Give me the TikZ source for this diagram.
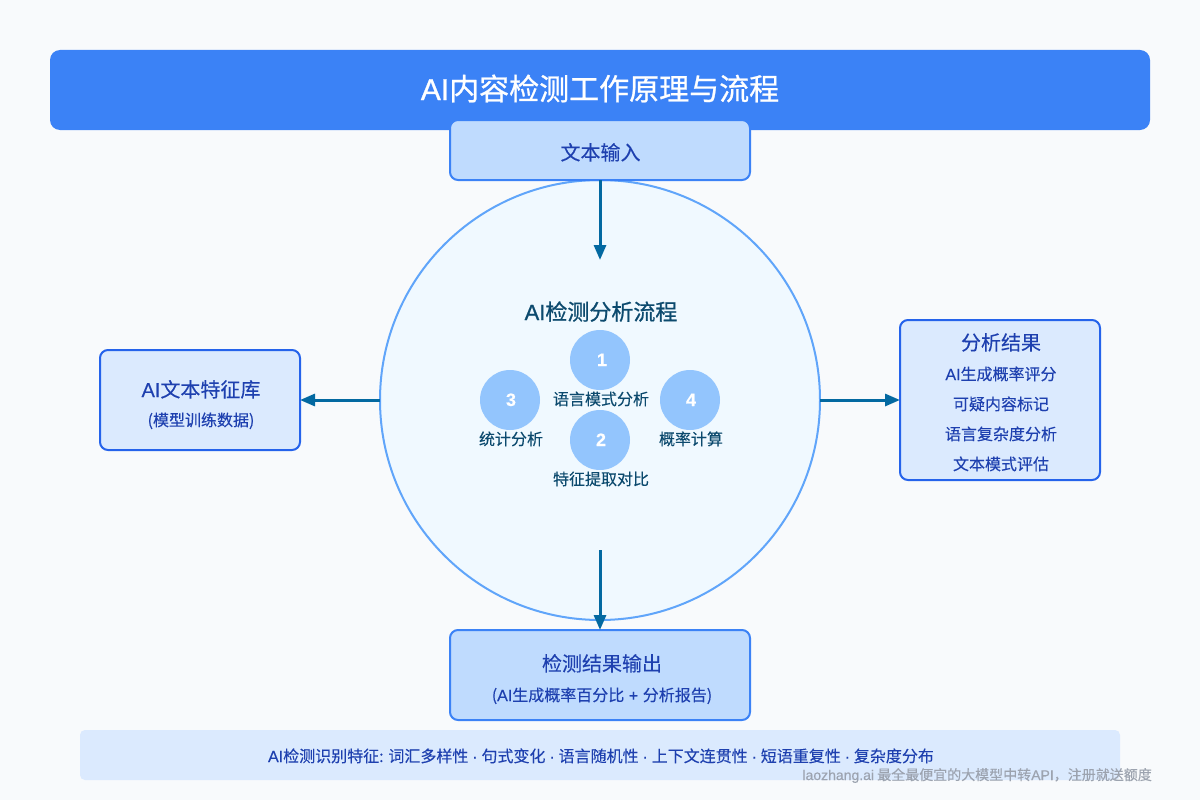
\documentclass[tikz,border=0pt]{standalone}
\usepackage{fontspec}
\setmainfont[RawFeature={embolden=0.2}]{Noto Sans CJK SC}
\newfontfamily\latf[RawFeature={embolden=0.2}]{Liberation Sans}
\newfontfamily\medf[RawFeature={embolden=0.8}]{Noto Sans CJK SC}
\newfontfamily\latm[RawFeature={embolden=0.8}]{Liberation Sans}
\usetikzlibrary{arrows.meta}
\definecolor{bgc}{HTML}{F8FAFC}
\definecolor{blue5}{HTML}{3B82F6}
\definecolor{blue6}{HTML}{2563EB}
\definecolor{blue2}{HTML}{BFDBFE}
\definecolor{blue1}{HTML}{DBEAFE}
\definecolor{blue3}{HTML}{93C5FD}
\definecolor{blue4}{HTML}{60A5FA}
\definecolor{sky}{HTML}{F0F9FF}
\definecolor{arrowc}{HTML}{0369A1}
\definecolor{txtb}{HTML}{1E40AF}
\definecolor{txtd}{HTML}{0C4A6E}
\definecolor{wm}{HTML}{9CA3AF}
\newcommand{\fs}[1]{\fontsize{#1}{#1}\selectfont}
\newcommand{\la}[1]{{\latf #1}}
\newcommand{\lm}[1]{{\latm #1}}
\newcommand{\dt}{\hspace{0.3pt}\la{·}\hspace{0.3pt}}
\tikzset{
  x=1pt,y=-1pt,
  boxn/.style={draw=blue5,line width=2pt,rounded corners=8pt,minimum width=#1,inner sep=0pt,outer sep=0pt},
  tb/.style={anchor=base,inner sep=0pt,text=txtb},
  td/.style={anchor=base,inner sep=0pt,text=txtd},
  dot/.style={circle,fill=blue3,minimum size=60pt,inner sep=0pt,outer sep=0pt},
  numt/.style={anchor=base,inner sep=0pt,text=white,font=\latf\bfseries\fs{18}},
  conn/.style={draw=arrowc,line width=3pt,-{Triangle[length=15pt,width=12pt]},shorten >=0pt},
}
\begin{document}
\begin{tikzpicture}
\useasboundingbox (0,0) rectangle (1200,800);
\fill[bgc] (0,0) rectangle (1200,800);
% header
\node[fill=blue5,rounded corners=10pt,minimum width=1100pt,minimum height=80pt,inner sep=0pt] (header) at (600,90) {};
\node[anchor=base,inner sep=0pt,text=white,font=\medf\fs{30}] (title) at (600,100) {\lm{AI}内容检测工作原理与流程};
% main circle
\node[circle,draw=blue4,fill=sky,line width=2pt,minimum size=440pt,inner sep=0pt,outer sep=0pt] (main) at (600,400) {};
% boxes
\node[boxn=300pt,fill=blue2,minimum height=60pt] (input) at (600,150) {};
\node[boxn=200pt,fill=blue1,draw=blue6,minimum height=100pt] (lib) at (200,400) {};
\node[boxn=200pt,fill=blue1,draw=blue6,minimum height=160pt] (res) at (1000,400) {};
\node[boxn=300pt,fill=blue2,minimum height=90pt] (out) at (600,675) {};
\node[fill=blue1,rounded corners=5pt,minimum width=1040pt,minimum height=50pt,inner sep=0pt] (bar) at (600,755) {};
% connectors
\coordinate (inEnd) at (600,260);
\coordinate (outStart) at (600,550);
\draw[conn] (input.south) -- (inEnd);
\draw[conn] (main.west) -- (lib.east);
\draw[conn] (main.east) -- (res.west);
\draw[conn] (outStart) -- (out.north);
% box texts
\node[tb,font=\fs{20}] (tInput) at (600.5,160) {文本输入};
\node[td,font=\medf\fs{22}] (tCenter) at (601,320) {\lm{AI}检测分析流程};
\node[tb,font=\fs{20}] (tLib) at (201,397) {\la{AI}文本特征库};
\node[tb,font=\fs{16}] (tLib2) at (201,426) {(模型训练数据)};
\node[tb,font=\fs{20}] (tRes) at (1001,350) {分析结果};
\node[tb,font=\fs{16}] (tRes1) at (1001,380) {\la{AI}生成概率评分};
\node[tb,font=\fs{16}] (tRes2) at (1001,410) {可疑内容标记};
\node[tb,font=\fs{16}] (tRes3) at (1001,440) {语言复杂度分析};
\node[tb,font=\fs{16}] (tRes4) at (1001,470) {文本模式评估};
\node[tb,font=\fs{20}] (tOut) at (602,671) {检测结果输出};
\node[tb,font=\fs{16}] (tOut2) at (602,701) {(\la{AI}生成概率百分比\hspace{1pt} \la{+} \hspace{1pt}分析报告)};
\node[tb,font=\fs{16}] (tBar) at (601,762) {\la{AI}检测识别特征: 词汇多样性 \dt{} 句式变化 \dt{} 语言随机性 \dt{} 上下文连贯性 \dt{} 短语重复性 \dt{} 复杂度分布};
% steps
\node[dot] (d1) at (600,360) {};
\node[dot] (d2) at (600,440) {};
\node[dot] (d3) at (510,400) {};
\node[dot] (d4) at (690,400) {};
\node[numt] (n1) at (602,366) {1};
\node[numt] (n2) at (601,446) {2};
\node[numt] (n3) at (511,406) {3};
\node[numt] (n4) at (691,406) {4};
\node[td,font=\fs{16}] (l1) at (601,405) {语言模式分析};
\node[td,font=\fs{16}] (l2) at (601,485) {特征提取对比};
\node[td,font=\fs{16}] (l3) at (511,445) {统计分析};
\node[td,font=\fs{16}] (l4) at (691,445) {概率计算};
% watermark
\node[anchor=base east,inner sep=0pt,text=wm,font=\fs{14}] (wmk) at (1152,780) {\la{laozhang.ai} 最全最便宜的大模型中转\la{API}，注册就送额度};
\end{tikzpicture}
\end{document}
